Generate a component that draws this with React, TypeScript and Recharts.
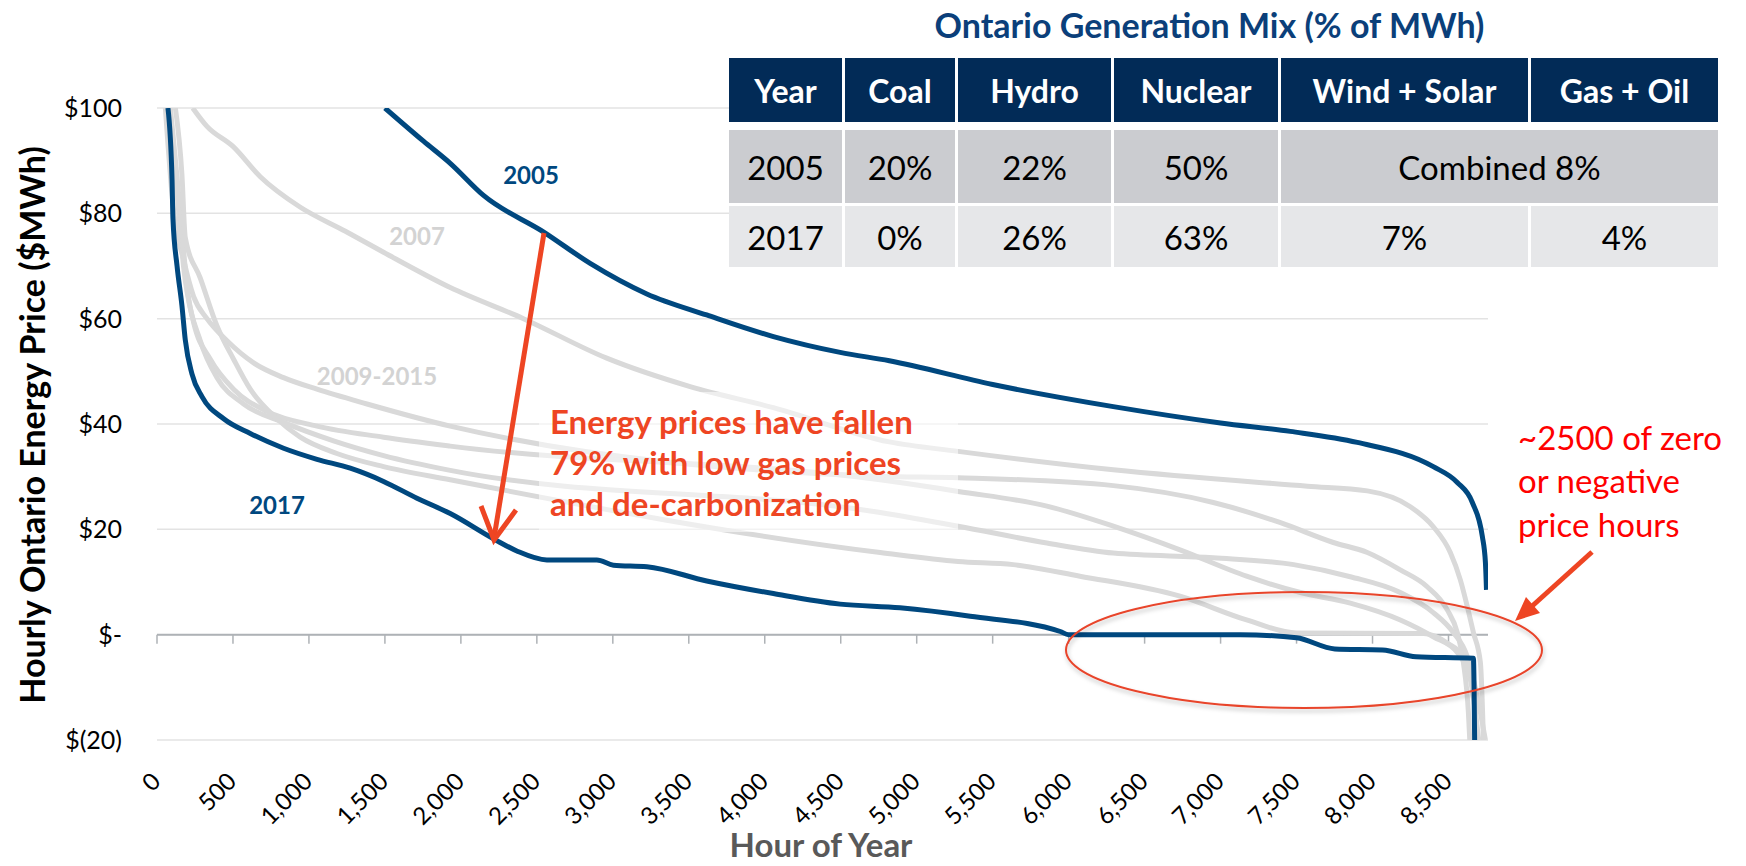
import React from "react";
import { CartesianGrid, Line, LineChart, ReferenceLine, XAxis, YAxis } from "recharts";

const X_MAX = 8760;
const X_TICKS = [0, 500, 1000, 1500, 2000, 2500, 3000, 3500, 4000, 4500, 5000, 5500, 6000, 6500, 7000, 7500, 8000, 8500];
const Y_TICKS = [-20, 0, 20, 40, 60, 80, 100];

// price duration curves: [hour of year, $/MWh], sorted high to low
const Y2005 = [
  [1500, 100], [1754, 93.7], [1930, 89.5], [2149, 83.4], [2548, 76.4], [2851, 70.5], [3224, 64.7],
  [3618, 60.7], [4057, 56.6], [4496, 53.6], [4820, 52], [5500, 47.5], [6294, 43.3], [7000, 40.2],
  [7459, 38.6], [7900, 36.5], [8400, 31.9], [8558, 28.9], [8657, 25.1], [8723, 18.6], [8743, 13.7], [8750, 8.5],
];
const Y2007 = [
  [235, 100], [329, 96.5], [500, 92.7], [678, 87], [941, 81.2], [1240, 76.6], [1491, 72.6], [1930, 65.9],
  [2412, 60], [2960, 52.5], [3509, 47.1], [4057, 43.1], [4820, 36.6], [5273, 34.8], [6294, 31.3],
  [7571, 28.2], [7966, 27.3], [8249, 24.3], [8400, 20.5], [8512, 15.6], [8578, 10.4], [8624, 5.3],
  [8664, 0.4], [8710, -5.3], [8730, -20],
];
const Y2009_15_A = [
  [55, 100], [110, 80.3], [175, 71.2], [241, 64.2], [329, 60], [461, 55.8], [636, 51.6], [833, 48.8],
  [1053, 46.6], [1382, 43.8], [1930, 39.6], [4760, 30.1], [5273, 29.8], [6294, 28.3], [6952, 25.1],
  [7390, 21.3], [7742, 17.5], [7966, 15.6], [8183, 12.3], [8360, 9.1], [8492, 4.7], [8558, 0.4],
  [8598, -5.3], [8631, -14.8], [8640, -20],
];
const Y2009_15_B = [
  [66, 100], [143, 80.3], [175, 69.8], [241, 59.3], [351, 52.3], [504, 46.6], [724, 42.4], [1053, 39.6],
  [1491, 37.5], [1930, 35.8], [4760, 29.4], [5273, 27.2], [5857, 24.4], [6294, 20.6], [6733, 16.1],
  [7171, 11.1], [7525, 8], [7854, 6], [8183, 2.8], [8400, -0.4], [8558, -3.4], [8644, -8.6],
  [8677, -14.8], [8699, -20],
];
const Y2009_15_C = [
  [88, 100], [154, 80.3], [197, 66.3], [285, 55.8], [395, 48.8], [570, 43.8], [833, 40.3], [1162, 36.8],
  [1491, 34], [1930, 31.2], [4760, 23.2], [5273, 20.6], [5857, 17.4], [6294, 15.5], [6952, 14.6],
  [7481, 13.3], [7854, 11], [8183, 8], [8400, 4.2], [8532, 0.4], [8624, -4.2], [8664, -8.6], [8686, -20],
];
const Y2009_15_D = [
  [121, 100], [164, 87.4], [186, 75.4], [285, 67.7], [395, 58.6], [504, 52.3], [614, 46.6], [789, 41],
  [943, 37.5], [1184, 34.4], [1491, 31.9], [1930, 29.4], [4760, 15.6], [5273, 13.9], [5635, 13.3],
  [6074, 11.1], [6733, 7.3], [7171, 2.8], [7500, 0.3], [8336, 0.2], [8492, -1.6], [8598, -4.2],
  [8664, -8.6], [8710, -14.8], [8743, -20],
];
const Y2017 = [
  [72, 100], [99, 86.4], [105, 79], [132, 70], [164, 62.5], [186, 56], [230, 49.5], [296, 45.2],
  [439, 41], [614, 38.2], [833, 35.4], [1053, 33.3], [1272, 31.6], [1491, 29.1], [1711, 25.9],
  [1930, 23], [2221, 18.1], [2368, 15.9], [2566, 14.2], [2895, 14.2], [3004, 13.2], [3224, 12.9],
  [3618, 10.2], [4057, 7.8], [4496, 5.8], [4890, 5.1], [5352, 3.5], [5945, 0.6], [6000, 0], [7130, 0],
  [7500, -0.6], [7752, -2.7], [8066, -2.9], [8286, -4.2], [8664, -4.5], [8672, -20],
];

const GRAY_SERIES = [Y2007, Y2009_15_A, Y2009_15_B, Y2009_15_C, Y2009_15_D];

const TABLE_HEAD = ["Year", "Coal", "Hydro", "Nuclear", "Wind + Solar", "Gas + Oil"];
const ROW_2005 = ["2005", "20%", "22%", "50%", "Combined 8%"];
const ROW_2017 = ["2017", "0%", "26%", "63%", "7%", "4%"];

const BLUE = "#00487F";
const GRAY = "#D9D9D9";
const ORANGE = "#EE4523";
const FONT = "Lato, 'Open Sans', sans-serif";

const toPoints = (rows: number[][]) => rows.map(([hour, price]) => ({ hour, price }));

const fmtPrice = (v: number) => (v === 0 ? "$-" : v < 0 ? `$(${-v})` : `$${v}`);

function HourTick({ x, y, payload }: any) {
  const tx = x + 5;
  const ty = y + 43;
  return (
    <text
      x={tx}
      y={ty}
      textAnchor="end"
      transform={`rotate(-45 ${tx} ${ty})`}
      fontFamily={FONT}
      fontSize={24}
      fill="#000"
    >
      {payload.value.toLocaleString("en-US")}
    </text>
  );
}

// zero line doubles as the x axis, with tick marks hanging below it
function ZeroAxis({ x1, x2, y1 }: any) {
  return (
    <g>
      <line x1={x1} x2={x2} y1={y1} y2={y1} stroke="#AEB2B6" strokeWidth={2} />
      {X_TICKS.map((h) => {
        const x = x1 + ((x2 - x1) * h) / X_MAX;
        return <line key={h} x1={x} x2={x} y1={y1} y2={y1 + 9} stroke="#AEB2B6" strokeWidth={1.5} />;
      })}
    </g>
  );
}

function MixTable() {
  const cols = "113px 110px 153px 164px 247px 187px";
  const cell: React.CSSProperties = {
    display: "flex",
    alignItems: "center",
    justifyContent: "center",
  };
  return (
    <div style={{ position: "absolute", left: 729, top: 0, width: 989, fontFamily: FONT }}>
      <div
        style={{
          height: 50,
          textAlign: "center",
          color: "#0B3F7A",
          fontWeight: 700,
          fontSize: 34,
          lineHeight: "50px",
          marginLeft: -28,
        }}
      >
        Ontario Generation Mix (% of MWh)
      </div>
      <div style={{ background: "#fff", paddingTop: 8 }}>
        <div style={{ display: "grid", gridTemplateColumns: cols, columnGap: 3, height: 64 }}>
          {TABLE_HEAD.map((h) => (
            <div key={h} style={{ ...cell, background: "#022B57", color: "#fff", fontWeight: 700, fontSize: 32 }}>
              {h}
            </div>
          ))}
        </div>
        <div style={{ display: "grid", gridTemplateColumns: cols, columnGap: 3, height: 73, marginTop: 8 }}>
          {ROW_2005.map((v, i) => (
            <div
              key={i}
              style={{ ...cell, background: "#CBCCD0", fontSize: 33, gridColumn: i === 4 ? "span 2" : undefined }}
            >
              {v}
            </div>
          ))}
        </div>
        <div style={{ display: "grid", gridTemplateColumns: cols, columnGap: 3, height: 61, marginTop: 3 }}>
          {ROW_2017.map((v, i) => (
            <div key={i} style={{ ...cell, background: "#E6E7E9", fontSize: 33 }}>
              {v}
            </div>
          ))}
        </div>
      </div>
    </div>
  );
}

function Notes() {
  return (
    <svg
      width={1746}
      height={866}
      style={{ position: "absolute", left: 0, top: 0, pointerEvents: "none", fontFamily: FONT }}
    >
      <defs>
        <filter id="soft" x="-10%" y="-30%" width="120%" height="160%">
          <feDropShadow dx="1" dy="3" stdDeviation="2" floodColor="#000" floodOpacity="0.25" />
        </filter>
      </defs>

      <text
        transform="translate(31 425) rotate(-90)"
        textAnchor="middle"
        dominantBaseline="central"
        fontSize={34}
        fontWeight={700}
        fill="#000"
      >
        Hourly Ontario Energy Price ($MWh)
      </text>
      <text x={821} y={857} textAnchor="middle" fontSize={33} fontWeight={700} fill="#595959">
        Hour of Year
      </text>

      <text x={531} y={184} textAnchor="middle" fontSize={24} fontWeight={700} fill={BLUE}>2005</text>
      <text x={417} y={245} textAnchor="middle" fontSize={24} fontWeight={700} fill="#D3D3D3">2007</text>
      <text x={377} y={385} textAnchor="middle" fontSize={24} fontWeight={700} fill="#D3D3D3">2009-2015</text>
      <text x={277} y={514} textAnchor="middle" fontSize={24} fontWeight={700} fill={BLUE}>2017</text>

      <rect x={539} y={392} width={419} height={140} fill="#fff" fillOpacity={0.55} />
      <g fontSize={33} fontWeight={700} fill={ORANGE}>
        <text x={550} y={434}>Energy prices have fallen</text>
        <text x={550} y={475}>79% with low gas prices</text>
        <text x={550} y={516}>and de-carbonization</text>
      </g>

      <line x1={544} y1={233} x2={494} y2={538} stroke={ORANGE} strokeWidth={5} />
      <polyline points="481,506 494,540 516,510" fill="none" stroke={ORANGE} strokeWidth={5} strokeLinejoin="miter" />

      <ellipse cx={1304} cy={650} rx={238} ry={58} fill="none" stroke="#E8442B" strokeWidth={2} filter="url(#soft)" />

      <g fontSize={33} fill="#FF0000">
        <text x={1518} y={450}>~2500 of zero</text>
        <text x={1518} y={493}>or negative</text>
        <text x={1518} y={537}>price hours</text>
      </g>
      <line x1={1592} y1={552} x2={1530} y2={608} stroke={ORANGE} strokeWidth={5} />
      <polygon points="1515,621 1540,613 1526,597" fill={ORANGE} />
    </svg>
  );
}

export default function App() {
  return (
    <div style={{ position: "absolute", left: 0, top: 0, width: 1746, height: 866, background: "#fff" }}>
      <LineChart width={1746} height={866} margin={{ top: 108, right: 258, bottom: 0, left: 0 }}>
        <CartesianGrid vertical={false} stroke="#E3E3E3" strokeWidth={1.5} />
        <XAxis
          type="number"
          dataKey="hour"
          domain={[0, X_MAX]}
          ticks={X_TICKS}
          interval={0}
          allowDataOverflow
          height={126}
          axisLine={false}
          tickLine={false}
          tickSize={0}
          tickMargin={0}
          tick={<HourTick />}
        />
        <YAxis
          domain={[-20, 100]}
          ticks={Y_TICKS}
          interval={0}
          allowDataOverflow
          width={157}
          axisLine={false}
          tickLine={false}
          tickSize={0}
          tickMargin={35}
          tickFormatter={fmtPrice}
          tick={{ fontFamily: FONT, fontSize: 25, fill: "#000" }}
        />
        <ReferenceLine y={0} shape={<ZeroAxis />} />
        {GRAY_SERIES.map((s, i) => (
          <Line
            key={i}
            data={toPoints(s)}
            dataKey="price"
            type="monotone"
            stroke={GRAY}
            strokeWidth={5}
            dot={false}
            activeDot={false}
            isAnimationActive={false}
          />
        ))}
        <Line
          data={toPoints(Y2005)}
          dataKey="price"
          type="monotone"
          stroke={BLUE}
          strokeWidth={5}
          dot={false}
          activeDot={false}
          isAnimationActive={false}
        />
        <Line
          data={toPoints(Y2017)}
          dataKey="price"
          type="monotone"
          stroke={BLUE}
          strokeWidth={5}
          dot={false}
          activeDot={false}
          isAnimationActive={false}
        />
      </LineChart>
      <MixTable />
      <Notes />
    </div>
  );
}
